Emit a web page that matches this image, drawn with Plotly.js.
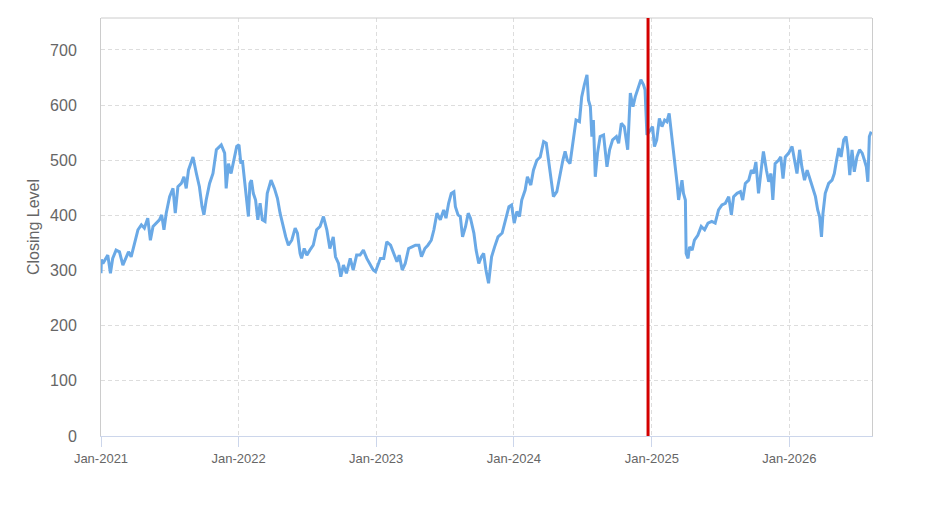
<!DOCTYPE html>
<html>
<head>
<meta charset="utf-8">
<script src="https://cdn.plot.ly/plotly-3.0.1.min.js"></script>
<style>html,body{margin:0;padding:0;background:#fff;}#chart{width:935px;height:526px;}</style>
</head>
<body>
<div id="chart"></div>
<script>
// Decimal-year positions of the readings
const yearPos = [
2021.000,2021.005,2021.015,2021.031,2021.051,2021.070,2021.087,2021.111,2021.136,2021.160,
2021.184,2021.201,2021.220,2021.245,2021.269,2021.293,2021.317,2021.342,2021.359,2021.378,
2021.402,2021.426,2021.443,2021.458,2021.475,2021.499,2021.523,2021.540,2021.560,2021.584,
2021.603,2021.620,2021.637,2021.669,2021.693,2021.717,2021.734,2021.749,2021.765,2021.790,
2021.814,2021.838,2021.874,2021.899,2021.911,2021.928,2021.947,2021.967,2021.986,
2022.003,2022.017,2022.027,2022.042,2022.059,2022.071,2022.083,2022.095,2022.107,2022.124,
2022.139,2022.156,2022.172,2022.192,2022.209,2022.235,2022.260,2022.284,2022.301,2022.325,
2022.342,2022.361,2022.386,2022.410,2022.429,2022.446,2022.458,2022.478,2022.495,2022.519,
2022.543,2022.567,2022.592,2022.616,2022.640,2022.664,2022.688,2022.705,2022.725,2022.744,
2022.761,2022.785,2022.810,2022.834,2022.858,2022.882,2022.906,2022.931,2022.955,2022.979,2022.994,
2023.013,2023.030,2023.054,2023.078,2023.103,2023.127,2023.151,2023.168,2023.188,2023.212,
2023.236,2023.260,2023.284,2023.309,2023.328,2023.352,2023.376,2023.401,2023.418,2023.442,
2023.466,2023.490,2023.507,2023.527,2023.546,2023.563,2023.575,2023.594,2023.611,2023.628,
2023.648,2023.667,2023.684,2023.708,2023.725,2023.745,2023.764,2023.781,2023.798,2023.817,
2023.837,2023.861,2023.885,2023.914,2023.938,2023.963,2023.982,
2024.001,2024.021,2024.040,2024.057,2024.081,2024.098,2024.123,2024.142,2024.166,2024.190,
2024.215,2024.234,2024.251,2024.268,2024.288,2024.312,2024.331,2024.355,2024.372,2024.389,
2024.408,2024.428,2024.452,2024.476,2024.493,2024.510,2024.530,2024.542,2024.554,2024.566,
2024.578,2024.590,2024.607,2024.626,2024.651,2024.675,2024.694,2024.718,2024.743,2024.760,
2024.779,2024.801,2024.825,2024.844,2024.864,2024.881,2024.905,2024.922,2024.941,2024.953,
2024.966,2024.990,
2025.007,2025.021,2025.038,2025.055,2025.075,2025.094,2025.111,2025.128,2025.142,2025.159,
2025.172,2025.184,2025.196,2025.208,2025.220,2025.232,2025.244,2025.251,2025.264,2025.276,
2025.293,2025.312,2025.336,2025.360,2025.385,2025.409,2025.438,2025.462,2025.486,2025.511,
2025.535,2025.559,2025.578,2025.595,2025.620,2025.644,2025.661,2025.680,2025.704,2025.724,
2025.741,2025.758,2025.777,2025.797,2025.813,2025.833,2025.850,2025.867,2025.881,2025.898,
2025.922,2025.939,2025.954,2025.971,2025.995,
2026.019,2026.036,2026.056,2026.075,2026.092,2026.109,2026.128,2026.148,2026.165,2026.189,
2026.206,2026.221,2026.233,2026.245,2026.262,2026.286,2026.310,2026.327,2026.342,2026.359,
2026.375,2026.395,2026.412,2026.426,2026.438,2026.455,2026.472,2026.492,2026.511,2026.528,
2026.545,2026.560,2026.569,2026.581,2026.594
];

// Closing level readings
const closingLevel = [
295,320,313,319,328,295,322,337,334,310,
325,334,325,349,374,383,377,395,355,380,
386,392,401,374,404,434,449,404,452,458,
470,449,482,506,476,452,416,401,428,458,
476,519,528,513,449,494,476,506,525,
528,494,500,464,422,398,458,464,440,428,
392,422,392,389,440,464,449,431,404,380,
361,346,355,377,368,331,322,340,328,337,
346,374,380,398,374,340,361,325,313,289,
310,295,322,301,328,328,337,322,310,301,298,
313,322,322,352,346,331,316,328,301,313,
340,343,346,346,325,340,346,355,374,404,
392,410,395,422,440,443,416,401,398,361,
380,404,395,368,337,313,325,331,301,277,
325,343,361,368,392,416,419,
386,407,398,428,446,470,455,482,500,506,
534,531,500,476,434,443,470,500,516,500,
494,537,573,570,615,637,655,609,597,543,
573,470,513,543,546,488,519,537,543,531,
567,561,519,622,597,615,633,646,637,628,
546,555,
561,525,537,576,561,573,570,585,555,519,
488,458,428,446,464,440,428,331,322,343,
337,355,364,380,374,386,389,386,410,419,
422,434,401,434,440,443,428,458,464,482,
476,497,440,488,516,482,461,476,428,494,
500,506,467,506,513,
525,500,476,519,488,464,482,467,455,434,
410,398,361,404,440,458,464,476,500,522,
506,537,543,519,473,519,479,506,519,513,
500,488,461,543,552
];

const xRange = ['2021-01-01', '2026-08-08'];
const markerDate = '2024-12-22';
const yTicks = [0, 100, 200, 300, 400, 500, 600, 700];

function toDate(y) {
  const ms = Date.UTC(2021, 0, 1) + (y - 2021) * 365.25 * 86400000;
  return new Date(ms).toISOString().slice(0, 10);
}
const dates = yearPos.map(toDate);

const trace = {
  x: dates,
  y: closingLevel,
  type: 'scatter',
  mode: 'lines',
  line: {color: '#6aa9e6', width: 3},
  hoverinfo: 'x+y',
  showlegend: false
};

const font = 'Liberation Sans, Arial, sans-serif';

const layout = {
  width: 935,
  height: 526,
  margin: {l: 101, r: 63, t: 18, b: 90, pad: 0},
  paper_bgcolor: '#ffffff',
  plot_bgcolor: '#ffffff',
  font: {family: font, color: '#666666'},
  showlegend: false,
  xaxis: {
    type: 'date',
    range: xRange,
    tick0: '2021-01-01',
    dtick: 'M12',
    tickformat: '%b-%Y',
    showgrid: true,
    gridcolor: '#dddddd',
    griddash: '4px,3px',
    gridwidth: 1,
    zeroline: false,
    showline: true,
    linecolor: '#ccd6eb',
    linewidth: 1,
    ticks: 'outside',
    ticklen: 10,
    tickcolor: '#ccd6eb',
    tickfont: {family: font, size: 13, color: '#666666'}
  },
  yaxis: {
    range: [0, 758],
    tickvals: yTicks,
    showgrid: true,
    gridcolor: '#dddddd',
    griddash: '4px,3px',
    gridwidth: 1,
    zeroline: false,
    showline: true,
    mirror: true,
    linecolor: '#cccccc',
    linewidth: 1,
    ticks: '',
    ticklabelstandoff: 20,
    tickfont: {family: font, size: 16, color: '#666666'},
    title: {text: 'Closing Level', font: {family: font, size: 16, color: '#666666'}, standoff: 6}
  },
  shapes: [
    {type: 'line', xref: 'paper', yref: 'paper', x0: 0, x1: 1, y0: 1, y1: 1,
     line: {color: '#cccccc', width: 1}},
    {type: 'line', xref: 'x', yref: 'paper', x0: markerDate, x1: markerDate, y0: 0, y1: 1,
     line: {color: '#d40000', width: 3}, layer: 'above'}
  ]
};

Plotly.newPlot('chart', [trace], layout, {displayModeBar: false, staticPlot: true});
</script>
</body>
</html>
